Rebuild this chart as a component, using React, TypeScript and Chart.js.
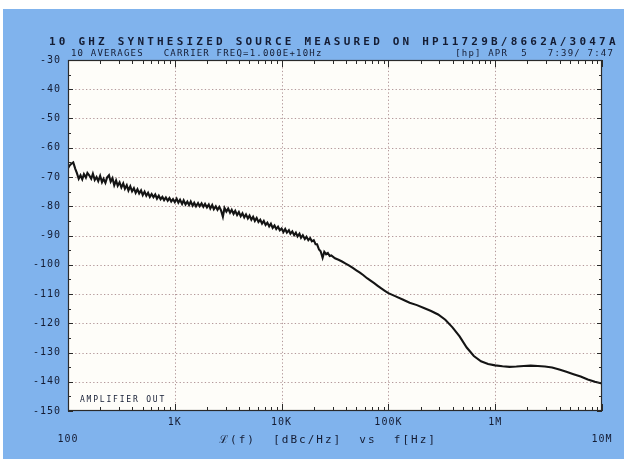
import React, { useEffect, useRef } from "react";
import { Chart, registerables } from "chart.js";

Chart.register(...registerables);

// ---------- data ----------
const FREQS = [
  // 100 Hz .. 1 kHz
  100, 104, 108, 112, 117, 121, 126, 131, 136, 141, 147, 152, 158, 165, 171, 178, 185, 192, 200, 208,
  215, 224, 232, 242, 251, 261, 271, 282, 292, 304, 316, 329, 341, 355, 368, 383, 398, 414, 430, 447,
  464, 483, 501, 521, 541, 562, 584, 607, 631, 656, 681, 708, 736, 765, 794, 825, 858, 891, 926, 962,
  // 1 kHz .. 10 kHz
  1000, 1040, 1080, 1120, 1170, 1210, 1260, 1310, 1360, 1410, 1470, 1520, 1580, 1650, 1710, 1780, 1850,
  1920, 2000, 2080, 2150, 2240, 2320, 2420, 2510, 2610, 2710, 2820, 2920, 3040, 3160, 3290, 3410, 3550,
  3680, 3830, 3980, 4140, 4300, 4470, 4640, 4830, 5010, 5210, 5410, 5620, 5840, 6070, 6310, 6560, 6810,
  7080, 7360, 7650, 7940, 8250, 8580, 8910, 9260, 9620,
  // 10 kHz .. 100 kHz
  10000, 10400, 10800, 11200, 11700, 12100, 12600, 13100, 13600, 14100, 14700, 15200, 15800, 16500, 17100,
  17800, 18500, 19200, 20000, 20800, 21500, 22400, 23200, 24200, 25100, 26100, 27100, 28200, 29200,
  31600, 34100, 36800, 39800, 43000, 46400, 50100, 54100, 58400, 63100, 68100, 73600, 79400, 85800, 92600,
  // 100 kHz .. 1 MHz
  100000, 117000, 136000, 158000, 185000, 215000, 251000, 292000, 341000, 398000, 464000, 541000, 631000,
  736000, 858000,
  // 1 MHz .. 10 MHz
  1000000, 1170000, 1360000, 1580000, 1850000, 2150000, 2510000, 2920000, 3410000, 3980000, 4640000,
  5410000, 6310000, 7360000, 8580000, 10000000,
];

const PHASE_NOISE = [
  // 100 Hz .. 1 kHz
  -67.0, -66.0, -65.4, -65.0, -67.2, -68.6, -70.6, -69.4, -70.8, -69.0, -70.2, -68.6, -69.4, -70.6, -68.9,
  -71.0, -70.0, -71.4, -69.6, -71.8, -70.6, -72.0, -70.2, -69.4, -71.6, -70.4, -72.8, -71.2, -73.0, -71.8,
  -73.6, -72.2, -74.0, -72.8, -74.6, -73.2, -74.9, -73.8, -75.4, -74.2, -75.6, -74.6, -76.2, -75.0, -76.4,
  -75.4, -76.8, -75.8, -76.9, -76.0, -77.4, -76.4, -77.6, -76.8, -77.9, -77.0, -78.1, -77.2, -78.4, -77.6,
  // 1 kHz .. 10 kHz
  -78.6, -77.4, -78.8, -77.8, -79.2, -78.0, -79.4, -78.4, -79.6, -78.4, -79.8, -78.8, -80.0, -78.9, -80.0,
  -79.0, -80.2, -79.2, -80.4, -79.4, -80.8, -79.6, -81.0, -80.0, -81.2, -80.2, -81.4, -83.6, -80.6, -81.8,
  -80.8, -82.2, -81.2, -82.6, -81.6, -83.0, -82.0, -83.4, -82.4, -83.8, -82.8, -84.2, -83.2, -84.6, -83.6,
  -85.0, -84.0, -85.4, -84.6, -85.9, -85.0, -86.4, -85.6, -86.9, -86.0, -87.4, -86.6, -87.8, -87.0, -88.2,
  // 10 kHz .. 100 kHz
  -87.6, -88.8, -87.8, -89.0, -88.2, -89.4, -88.6, -89.9, -89.0, -90.3, -89.4, -90.8, -89.9, -91.2, -90.4,
  -91.6, -90.9, -92.0, -91.6, -93.0, -93.0, -94.8, -95.4, -97.6, -95.6, -96.4, -96.0, -97.0, -96.8,
  -97.8, -98.3, -98.9, -99.6, -100.3, -101.1, -101.9, -102.7, -103.6, -104.6, -105.4, -106.3, -107.2,
  -108.1, -108.9,
  // 100 kHz .. 1 MHz
  -109.7, -110.8, -111.9, -113.0, -113.8, -114.8, -115.8, -117.0, -118.8, -121.4, -124.5, -128.3, -131.2,
  -133.0, -133.9,
  // 1 MHz .. 10 MHz
  -134.4, -134.7, -134.9, -134.8, -134.6, -134.5, -134.6, -134.8, -135.1, -135.8, -136.6, -137.4, -138.2,
  -139.2, -140.0, -140.6,
];

const Y_TICKS = [-30, -40, -50, -60, -70, -80, -90, -100, -110, -120, -130, -140, -150];
const X_TICKS = [100, 1000, 10000, 100000, 1000000, 10000000];
const X_TICK_LABELS = ["100", "1K", "10K", "100K", "1M", "10M"];
const X_MINOR_MULTIPLIERS = [2, 3, 4, 5, 6, 7, 8, 9];

const TITLE_1 = "10 GHZ SYNTHESIZED SOURCE MEASURED ON HP11729B/8662A/3047A";
const TITLE_2_LEFT = "10 AVERAGES   CARRIER FREQ=1.000E+10Hz";
const TITLE_2_RIGHT = "[hp] APR  5   7:39/ 7:47";
const X_TITLE = "\u2112(f)  [dBc/Hz]  vs  f[Hz]";
const NOTE = "AMPLIFIER OUT";

// ---------- style ----------
const BLUE = "#80b3ed";
const PLOT_BG = "#fefdf9";
const INK = "#141c33";
const GRID = "#b3989a";
const TRACE = "#141414";
const MONO = "'DejaVu Sans Mono', 'Liberation Mono', monospace";

const decorPlugin = {
  id: "decor",
  beforeDraw(chart: any) {
    const ctx = chart.ctx as CanvasRenderingContext2D;
    const { left, top, right, bottom } = chart.chartArea;
    const xs = chart.scales.x;
    const ys = chart.scales.y;
    ctx.save();
    ctx.fillStyle = "#ffffff";
    ctx.fillRect(0, 0, chart.width, chart.height);
    ctx.fillStyle = BLUE;
    ctx.fillRect(3, 9, chart.width - 5, chart.height - 9);
    ctx.fillStyle = PLOT_BG;
    ctx.fillRect(left, top, right - left, bottom - top);

    // dotted grid
    ctx.strokeStyle = GRID;
    ctx.lineWidth = 1;
    ctx.setLineDash([1.3, 2.3]);
    for (const v of Y_TICKS) {
      const y = Math.round(ys.getPixelForValue(v)) + 0.5;
      if (y <= top + 1 || y >= bottom - 1) continue;
      ctx.beginPath();
      ctx.moveTo(left, y);
      ctx.lineTo(right, y);
      ctx.stroke();
    }
    for (const v of X_TICKS) {
      const x = Math.round(xs.getPixelForValue(v)) + 0.5;
      if (x <= left + 1 || x >= right - 1) continue;
      ctx.beginPath();
      ctx.moveTo(x, top);
      ctx.lineTo(x, bottom);
      ctx.stroke();
    }
    ctx.restore();
    (ctx as any).letterSpacing = "1px";
  },
  afterDatasetsDraw(chart: any) {
    const ctx = chart.ctx as CanvasRenderingContext2D;
    const { left, top, right, bottom } = chart.chartArea;
    const xs = chart.scales.x;
    const ys = chart.scales.y;
    ctx.save();
    (ctx as any).letterSpacing = "0px";
    // frame
    ctx.strokeStyle = "#2a2a2a";
    ctx.lineWidth = 1.2;
    ctx.strokeRect(left + 0.5, top + 0.5, right - left - 1, bottom - top - 1);

    // x ticks (inward, top & bottom)
    ctx.lineWidth = 1;
    for (let d = 0; d < X_TICKS.length; d++) {
      const base = X_TICKS[d];
      const marks: [number, number][] = [[base, 7]];
      if (d < X_TICKS.length - 1) for (const m of X_MINOR_MULTIPLIERS) marks.push([base * m, 4]);
      for (const [v, len] of marks) {
        const x = Math.round(xs.getPixelForValue(v)) + 0.5;
        ctx.beginPath();
        ctx.moveTo(x, top);
        ctx.lineTo(x, top + len);
        ctx.moveTo(x, bottom);
        ctx.lineTo(x, bottom - len);
        ctx.stroke();
      }
    }
    // y ticks (every 5 dB, inward, left & right)
    for (let v = -30; v >= -150; v -= 5) {
      const y = Math.round(ys.getPixelForValue(v)) + 0.5;
      const len = v % 10 === 0 ? 5 : 3;
      ctx.beginPath();
      ctx.moveTo(left, y);
      ctx.lineTo(left + len, y);
      ctx.moveTo(right, y);
      ctx.lineTo(right - len, y);
      ctx.stroke();
    }

    // texts
    ctx.fillStyle = INK;
    ctx.textBaseline = "alphabetic";
    ctx.textAlign = "left";
    ctx.font = `bold 11px ${MONO}`;
    (ctx as any).letterSpacing = "3.2px";
    ctx.fillText(TITLE_1, 49, 45);

    ctx.font = `9px ${MONO}`;
    (ctx as any).letterSpacing = "1.2px";
    ctx.fillText(TITLE_2_LEFT, 71, 56);
    ctx.textAlign = "right";
    ctx.fillText(TITLE_2_RIGHT, 614, 56);

    ctx.textAlign = "center";
    ctx.font = `11px ${MONO}`;
    (ctx as any).letterSpacing = "2px";
    ctx.fillText(X_TITLE, 328, 443);

    ctx.textAlign = "left";
    ctx.font = `8px ${MONO}`;
    (ctx as any).letterSpacing = "1.8px";
    ctx.fillText(NOTE, 80, 402);
    ctx.restore();
  },
  afterDraw(chart: any) {
    (chart.ctx as any).letterSpacing = "0px";
  },
};

export default function App() {
  const ref = useRef<HTMLCanvasElement | null>(null);
  useEffect(() => {
    document.body.style.margin = "0";
    const canvas = ref.current;
    if (!canvas) return;
    const chart = new Chart(canvas, {
      type: "line",
      data: {
        datasets: [
          {
            data: FREQS.map((f, i) => ({ x: f, y: PHASE_NOISE[i] })),
            borderColor: TRACE,
            borderWidth: 2.1,
            pointRadius: 0,
            tension: 0,
            fill: false,
          },
        ],
      },
      options: {
        responsive: false,
        animation: false,
        events: [],
        layout: { padding: { left: 0, right: 24, top: 60, bottom: 0 } },
        plugins: { legend: { display: false }, title: { display: false }, tooltip: { enabled: false } },
        scales: {
          x: {
            type: "logarithmic",
            min: 100,
            max: 10000000,
            grid: { display: false, drawTicks: false },
            border: { display: false },
            afterBuildTicks: (s: any) => {
              s.ticks = X_TICKS.map((v) => ({ value: v }));
            },
            afterFit: (s: any) => {
              s.height = 48;
            },
            ticks: {
              autoSkip: false,
              maxRotation: 0,
              minRotation: 0,
              padding: 3,
              color: INK,
              font: { family: MONO, size: 10, lineHeight: 1.7 },
              callback: (v: any) => {
                const i = X_TICKS.indexOf(Number(v));
                if (i < 0) return "";
                return i === 0 || i === X_TICKS.length - 1 ? ["", X_TICK_LABELS[i]] : X_TICK_LABELS[i];
              },
            },
          },
          y: {
            type: "linear",
            min: -150,
            max: -30,
            grid: { display: false, drawTicks: false },
            border: { display: false },
            afterBuildTicks: (s: any) => {
              s.ticks = Y_TICKS.map((v) => ({ value: v }));
            },
            afterFit: (s: any) => {
              s.width = 68;
            },
            ticks: {
              autoSkip: false,
              padding: 7,
              color: INK,
              font: { family: MONO, size: 10 },
              callback: (v: any) => String(v),
            },
          },
        },
      },
      plugins: [decorPlugin],
    });
    return () => chart.destroy();
  }, []);

  return (
    <div style={{ position: "fixed", left: 0, top: 0, width: 626, height: 459 }}>
      <canvas ref={ref} width={626} height={459} style={{ width: 626, height: 459, display: "block" }} />
    </div>
  );
}
